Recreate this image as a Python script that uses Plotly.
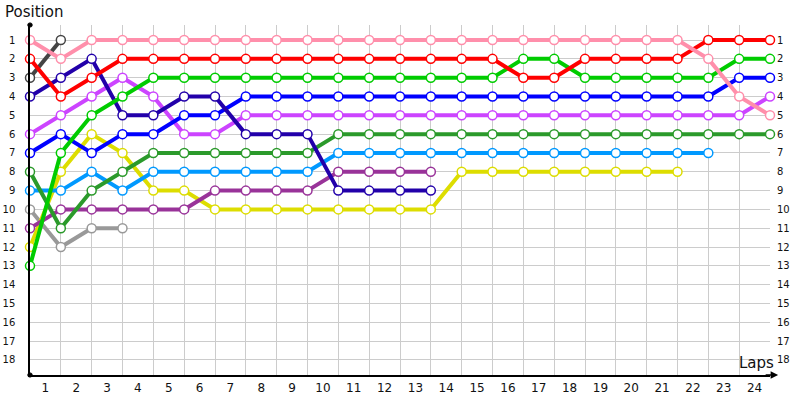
import plotly.graph_objects as go

LAPS = list(range(0, 25))
LAP_LABELS = [str(i) for i in range(1, 25)]
POSITIONS = list(range(1, 19))

# position at the start (lap 0) and at the end of each lap
pink = [1, 2] + [1] * 20 + [2, 4, 5]
red = [2, 4, 3] + [2] * 13 + [3, 3] + [2] * 4 + [1, 1, 1]
green = [13, 7, 5, 4] + [3] * 12 + [2, 2] + [3] * 5 + [2, 2]
dark_grey = [3, 1]
navy = [4, 3, 2, 5, 5, 4, 4, 6, 6, 6, 9, 9, 9, 9]
blue = [7, 6, 7, 6, 6, 5, 5] + [4] * 16 + [3, 3]
violet = [6, 5, 4, 3, 4, 6, 6] + [5] * 17 + [4]
forest = [8, 11, 9, 8] + [7] * 6 + [6] * 15
light_blue = [9, 9, 8, 9] + [8] * 6 + [7] * 13
purple = [11] + [10] * 5 + [9] * 4 + [8] * 4
yellow = [12, 8, 6, 7, 9, 9] + [10] * 8 + [8] * 8
grey = [10, 12, 11, 11]

SERIES = [
    ("grey", grey, "#999999"),
    ("yellow", yellow, "#dddd00"),
    ("purple", purple, "#993399"),
    ("light_blue", light_blue, "#0099ff"),
    ("forest", forest, "#2b9a2b"),
    ("violet", violet, "#cc44ff"),
    ("blue", blue, "#0000ff"),
    ("navy", navy, "#2200aa"),
    ("dark_grey", dark_grey, "#444444"),
    ("green", green, "#00cc00"),
    ("red", red, "#ff0000"),
    ("pink", pink, "#ff8fab"),
]

FONT = "DejaVu Sans"

fig = go.Figure()
for name, vals, col in SERIES:
    fig.add_trace(go.Scatter(
        x=LAPS[:len(vals)], y=vals, mode="lines+markers", name=name,
        line=dict(color=col, width=4),
        marker=dict(size=9, color="white", line=dict(color=col, width=1.5)),
        cliponaxis=False, showlegend=False))

# invisible trace for the label axes
fig.add_trace(go.Scatter(x=[0.5], y=[1], xaxis="x2", yaxis="y2", mode="markers",
                         marker=dict(opacity=0), showlegend=False, hoverinfo="skip"))

fig.update_layout(
    width=800, height=400,
    margin=dict(l=30, r=30, t=25, b=25),
    plot_bgcolor="white", paper_bgcolor="white",
    font=dict(family=FONT, color="#222222"),
    xaxis=dict(range=[0, 24], tickvals=LAPS, showticklabels=False,
               showgrid=True, gridcolor="#cccccc", gridwidth=1,
               showline=True, linecolor="black", linewidth=1.5,
               zeroline=False, ticks="", automargin=False),
    xaxis2=dict(range=[0, 24], overlaying="x", side="bottom",
                tickvals=[i + 0.5 for i in range(24)], ticktext=LAP_LABELS,
                showgrid=False, zeroline=False, ticks="", automargin=False,
                tickfont=dict(size=12, color="#111111"), ticklabelstandoff=4),
    yaxis=dict(range=[18.8, 0.2], tickvals=POSITIONS,
               showgrid=True, gridcolor="#cccccc", gridwidth=1,
               showline=True, linecolor="black", linewidth=1.5,
               zeroline=False, ticks="", ticklabelstandoff=11, automargin=False,
               tickfont=dict(size=10, color="#111111")),
    yaxis2=dict(range=[18.8, 0.2], overlaying="y", side="right",
                tickvals=POSITIONS, showgrid=False, zeroline=False, ticks="",
                ticklabelstandoff=6, automargin=False,
                tickfont=dict(size=10, color="#111111")),
)

# axis titles
fig.add_annotation(text="Position", xref="paper", yref="paper", x=-0.036, y=1.0,
                   yshift=2, xanchor="left", yanchor="bottom", showarrow=False,
                   font=dict(size=15, family=FONT, color="#111111"))
fig.add_annotation(text="Laps", xref="paper", yref="paper", x=1.008, y=0.0,
                   yshift=1, xanchor="right", yanchor="bottom", showarrow=False,
                   font=dict(size=15, family=FONT, color="#111111"))
# arrow at the end of the lap axis
fig.add_annotation(text="", xref="paper", yref="paper", x=1.011, y=0, ax=-14, ay=0,
                   showarrow=True, arrowhead=2, arrowsize=1, arrowwidth=1.5,
                   arrowcolor="black")
# dots at the ends of the position axis
for yy in (0, 1):
    fig.add_shape(type="circle", xref="paper", yref="paper",
                  x0=-0.003, x1=0.003, y0=yy - 0.006, y1=yy + 0.006,
                  fillcolor="black", line=dict(color="black", width=1))

# the page body has a default 8px margin; drop it so the figure fills the window
fig.write_html("out.html", config={"displayModeBar": False},
               post_script="document.body.style.margin='0';")
